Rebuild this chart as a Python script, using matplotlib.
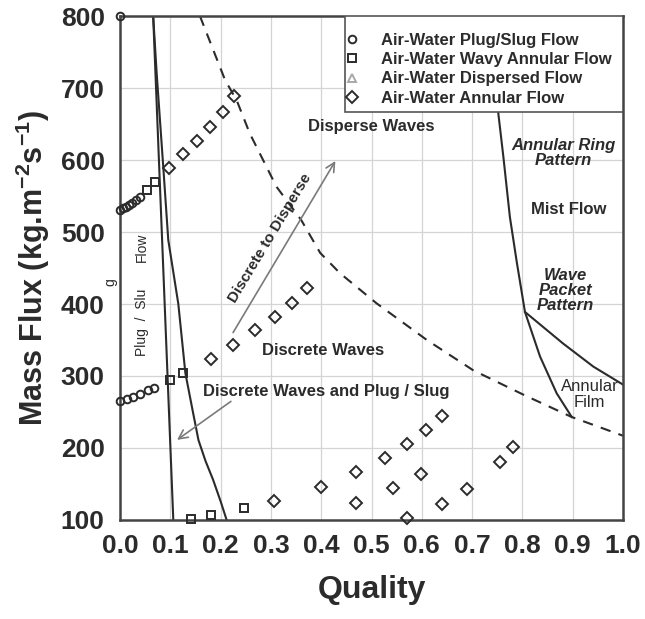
import matplotlib
matplotlib.use("Agg")
import matplotlib.pyplot as plt
from matplotlib.patches import Rectangle

plt.rcParams['font.family'] = ['Liberation Sans', 'DejaVu Sans']
plt.rcParams['mathtext.fontset'] = 'custom'
plt.rcParams['mathtext.rm'] = 'Liberation Sans:bold'
plt.rcParams['mathtext.bf'] = 'Liberation Sans:bold'
plt.rcParams['mathtext.default'] = 'bf'

# ---- experimental points (quality, mass flux) ----
plug_q = [0.0, 0.0, 0.006, 0.012, 0.018, 0.024, 0.032, 0.04,
          0.0, 0.013, 0.026, 0.04, 0.055, 0.068]
plug_g = [800, 531, 533, 535, 537, 540, 544, 548,
          265, 268, 271, 275, 280, 284]

wavy_q = [0.053, 0.07, 0.099, 0.126, 0.142, 0.181, 0.247]
wavy_g = [558, 570, 294, 304, 102, 107, 117]

dispersed_q = []
dispersed_g = []

annular_q = [0.098, 0.126, 0.154, 0.179, 0.205, 0.227,
             0.18, 0.225, 0.268, 0.308, 0.341, 0.371,
             0.306, 0.40, 0.47, 0.47, 0.527, 0.542, 0.571, 0.571,
             0.598, 0.608, 0.64, 0.64, 0.69, 0.755, 0.782]
annular_g = [589, 608, 627, 646, 667, 689,
             324, 343, 364, 382, 401, 422,
             126, 146, 166, 124, 186, 144, 206, 103,
             164, 225, 244, 122, 143, 181, 201]

# ---- flow-regime transition boundaries ----
plug_bound_q = [0.066, 0.086, 0.106]
plug_bound_g = [800, 450, 100]

wave_bound_q = [0.066, 0.073, 0.086, 0.096, 0.116, 0.13, 0.145, 0.156, 0.17, 0.185, 0.20, 0.212]
wave_bound_g = [800, 720, 591, 489, 400, 304, 250, 211, 182, 156, 126, 100]

disperse_bound_q = [0.159, 0.209, 0.232, 0.258, 0.311, 0.36, 0.398, 0.437, 0.51,
                    0.61, 0.702, 0.802, 0.898, 1.0]
disperse_bound_g = [800, 711, 683, 637, 563, 517, 471, 443, 401,
                    350, 308, 274, 243, 217]

mist_bound_q = [0.735, 0.752, 0.762, 0.775, 0.789, 0.805, 0.835, 0.868, 0.898]
mist_bound_g = [800, 665, 605, 521, 457, 389, 327, 276, 243]

film_bound_q = [0.805, 0.881, 0.941, 1.0]
film_bound_g = [389, 345, 313, 288]

x_ticks = [0.0, 0.1, 0.2, 0.3, 0.4, 0.5, 0.6, 0.7, 0.8, 0.9, 1.0]
y_ticks = [100, 200, 300, 400, 500, 600, 700, 800]

ink = '#2b2b2b'

fig = plt.figure(figsize=(6.45, 6.19), dpi=100)
ax = fig.add_axes([0.186, 0.160, 0.780, 0.814])
ax.set_xlim(0, 1.0)
ax.set_ylim(100, 800)
ax.set_xticks(x_ticks)
ax.set_yticks(y_ticks)
ax.set_xticklabels([f'{v:.1f}' for v in x_ticks])
ax.grid(True, color='#d4d4d4', linewidth=0.9)
ax.set_axisbelow(True)
ax.tick_params(length=0, labelsize=19, colors=ink)
ax.tick_params(axis='x', pad=10)
ax.tick_params(axis='y', pad=11)
for lab in ax.get_xticklabels() + ax.get_yticklabels():
    lab.set_fontweight('bold')
for sp in ax.spines.values():
    sp.set_color('#444444')
    sp.set_linewidth(1.8)

# boundaries
ax.plot(plug_bound_q, plug_bound_g, color=ink, lw=1.5, zorder=2)
ax.plot(wave_bound_q, wave_bound_g, color=ink, lw=1.5, zorder=2)
ax.plot(disperse_bound_q, disperse_bound_g, color=ink, lw=1.5,
        linestyle=(0, (5, 4)), zorder=2)
ax.plot(mist_bound_q, mist_bound_g, color=ink, lw=1.5, zorder=2)
ax.plot(film_bound_q, film_bound_g, color=ink, lw=1.5, zorder=2)

mk = dict(linestyle='none', markerfacecolor='none', markeredgewidth=1.4,
          clip_on=False, zorder=3)
h1, = ax.plot(plug_q, plug_g, marker='o', markersize=5.5, markeredgecolor=ink,
              label='Air-Water Plug/Slug Flow', **mk)
h2, = ax.plot(wavy_q, wavy_g, marker='s', markersize=5.5, markeredgecolor=ink,
              label='Air-Water Wavy Annular Flow', **mk)
h3, = ax.plot(dispersed_q, dispersed_g, marker='^', markersize=5.5,
              markeredgecolor='#a8a8a8', label='Air-Water Dispersed Flow', **mk)
h4, = ax.plot(annular_q, annular_g, marker='D', markersize=5.8, markeredgecolor=ink,
              label='Air-Water Annular Flow', **mk)

# legend box
ax.add_patch(Rectangle((0.447, 0.81), 0.553, 0.19, transform=ax.transAxes,
                       facecolor='white', edgecolor='#555555', lw=1.2, zorder=4))
leg = ax.legend(handles=[h1, h2, h3, h4], loc='upper left',
                bbox_to_anchor=(0.415, 1.0), frameon=False, borderaxespad=0,
                borderpad=1.0, handlelength=0.8, handletextpad=1.34,
                labelspacing=0.26, prop={'weight': 'bold', 'size': 12})
leg.set_zorder(5)
for t in leg.get_texts():
    t.set_color(ink)

# regime labels
tb = dict(color=ink, fontweight='bold', ha='center', va='center', zorder=6)
ax.text(0.499, 646, 'Disperse Waves', fontsize=12, **tb)
ax.text(0.403, 335, 'Discrete Waves', fontsize=12, **tb)
ax.text(0.411, 279, 'Discrete Waves and Plug / Slug', fontsize=12, **tb)
ax.text(0.299, 492, 'Discrete to Disperse', fontsize=11, rotation=59,
        rotation_mode='anchor', **tb)
ax.text(0.881, 610, 'Annular Ring\nPattern', fontsize=12, style='italic',
        linespacing=1.0, **tb)
ax.text(0.891, 531, 'Mist Flow', fontsize=12, **tb)
ax.text(0.885, 419, 'Wave\nPacket\nPattern', fontsize=12, style='italic',
        linespacing=1.0, **tb)
ax.text(0.934, 274, 'Annular\nFilm', fontsize=12, color=ink, ha='center',
        va='center', linespacing=1.05, zorder=6)
ax.text(0.044, 374, 'Plug  /  Slu', fontsize=10, rotation=90, color=ink,
        ha='center', va='center')
ax.text(0.044, 479, 'Flow', fontsize=10, rotation=90, color=ink,
        ha='center', va='center')
ax.text(-0.02, 431, 'g', fontsize=10, rotation=90, color=ink,
        ha='center', va='center', clip_on=False)

# arrows
ap = dict(arrowstyle='->', color='#7a7a7a', lw=1.2, mutation_scale=16)
ax.annotate('', xy=(0.431, 602), xytext=(0.222, 357), arrowprops=ap)
ax.annotate('', xy=(0.109, 209), xytext=(0.225, 267), arrowprops=ap)

ax.set_xlabel('Quality', fontsize=23, fontweight='bold', color=ink, labelpad=12)
ax.set_ylabel('Mass Flux (kg.m$^{-2}$s$^{-1}$)', fontsize=22, fontweight='bold',
              color=ink, labelpad=6)

fig.savefig('out.png', dpi=100)
